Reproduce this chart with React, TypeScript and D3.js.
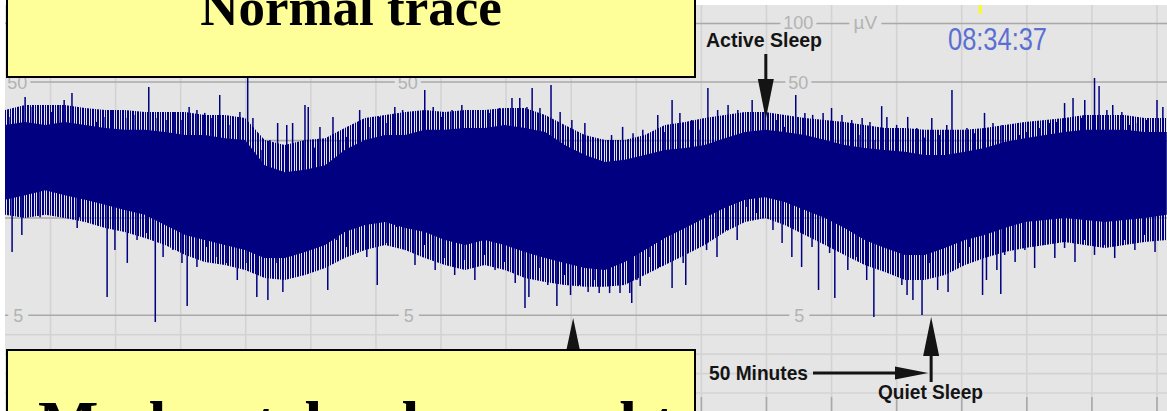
import React from "react";
import * as d3 from "d3";

const WIDTH = 1167;
const HEIGHT = 411;

// Amplitude-integrated EEG band: time in minutes, margins in µV
const bandMinutes = [
  3.0, 6.1, 9.2, 12.2, 15.3, 18.4, 21.4, 24.5, 27.6, 30.7, 33.7, 36.8, 39.9, 42.9, 46.0,
  49.1, 52.2, 55.2, 58.3, 61.4, 64.5, 67.5, 70.6, 73.7, 76.7, 79.8, 82.9, 86.0, 89.0, 92.1,
  95.2, 98.2, 101.3, 104.4, 107.5, 110.5, 113.6, 116.7, 119.8, 122.8, 125.9, 129.0, 132.0,
  135.1, 138.2, 141.3, 144.3, 147.4, 150.5, 153.5, 156.6, 159.7, 162.8, 165.8, 168.9, 172.0,
  175.0, 178.1, 181.5,
];
// dense core of the band
const bandUpperUv = [
  30.1, 31.2, 30.1, 31.2, 30.1, 29.0, 28.4, 28.4, 27.7, 26.7, 26.7, 25.7, 25.2, 18.7, 17.2,
  17.7, 18.7, 22.4, 25.2, 26.7, 26.7, 28.4, 28.4, 29.0, 29.0, 30.1, 29.0, 27.7, 23.7, 21.1,
  19.4, 19.9, 21.1, 22.4, 22.9, 23.7, 25.7, 27.7, 28.4, 27.7, 26.7, 25.2, 23.7,
  22.9, 22.4, 21.9, 21.1, 21.1, 21.9, 22.9, 24.6, 25.7, 26.7, 27.7, 28.4, 28.4,
  28.4, 27.7, 27.7,
];
const bandLowerUv = [
  12.4, 13.1, 13.9, 13.1, 12.4, 11.7, 11.0, 10.4, 9.64, 9.13, 8.87, 8.61, 8.35, 7.94, 7.94,
  8.25, 8.61, 9.28, 9.64, 9.79, 9.49, 9.28, 8.87, 8.61, 8.87, 8.61, 8.25, 7.94, 7.69, 7.43,
  7.33, 7.74, 8.35, 8.97, 9.49, 10.0, 11.3, 12.4, 12.8, 12.1, 11.0, 10.0, 9.49,
  8.87, 8.46, 8.1, 8.1, 8.46, 8.87, 9.13, 9.49, 9.79, 9.9, 10.0, 9.9, 9.79,
  9.9, 10.0, 10.4,
];
// outer margins reached by a large share of the samples
const fringeUpperUv = [
  35.9, 38.1, 38.1, 38.1, 36.8, 35.9, 35.9, 35.1, 35.1, 35.1, 33.9, 33.9, 32.7, 25.2, 23.7,
  25.2, 25.7, 29.0, 32.7, 33.9, 35.1, 35.9, 35.1, 35.9, 35.9, 36.8, 36.8, 33.9, 30.1, 26.7,
  25.2, 25.2, 26.7, 30.1, 31.2, 32.7, 33.9, 35.1, 35.1, 33.9, 32.7, 31.9, 31.2,
  30.1, 29.0, 29.0, 28.4, 28.4, 28.4, 29.0, 30.1, 31.2, 31.9, 32.7, 33.9, 33.9,
  33.9, 32.7, 32.7,
];
const fringeLowerUv = [
  10.4, 10.0, 10.4, 10.0, 9.79, 9.49, 9.28, 8.97, 8.61, 8.1, 7.74, 7.58, 7.33, 6.92, 6.81,
  7.07, 7.43, 7.94, 8.35, 8.61, 8.35, 7.94, 7.58, 7.33, 7.58, 7.33, 6.92, 6.71, 6.56, 6.46,
  6.46, 6.56, 7.07, 7.58, 8.1, 8.61, 9.28, 9.79, 10.0, 9.64, 9.13, 8.61, 8.1,
  7.58, 7.22, 6.81, 6.81, 7.07, 7.58, 7.94, 8.25, 8.46, 8.61, 8.77, 8.61, 8.46,
  8.61, 8.77, 8.87,
];

// Single high-amplitude excursions above the band: [minute, µV]
const upperSpikes: [number, number][] = [
  [3.8, 33.1], [6.1, 41.9], [7.2, 37.2], [8.1, 38.1], [10.2, 35.1], [11.5, 38.1], [12.1, 40.4],
  [13.3, 43.9], [14.2, 35.9], [15.8, 31.9], [17.1, 31.2], [18.4, 33.1], [19.4, 35.9], [20.4, 33.9],
  [21.8, 32.7], [22.8, 33.9], [25.1, 47.2], [26.4, 32.7], [27.9, 31.9], [29.1, 35.1], [30.2, 31.9],
  [31.3, 37.2], [32.5, 35.9], [33.7, 34.7], [34.8, 32.7], [36.0, 42.9], [37.6, 30.1], [39.1, 35.1],
  [40.3, 57.0], [41.1, 32.7], [42.5, 22.4], [43.7, 25.2], [44.9, 30.8], [46.3, 30.1], [47.2, 30.8],
  [48.0, 23.7], [49.1, 38.1], [49.6, 37.2], [50.6, 23.0], [51.4, 29.4], [53.4, 33.1], [54.5, 25.2],
  [55.5, 26.1], [57.5, 35.9], [59.1, 29.4], [60.6, 33.1], [61.7, 30.8], [62.9, 37.2], [64.1, 35.9],
  [67.5, 45.5], [68.8, 37.2], [70.1, 33.1], [71.7, 35.9], [73.2, 38.1], [74.9, 33.1], [77.5, 34.7],
  [79.0, 36.8], [80.9, 41.4], [82.1, 41.4], [83.2, 37.2], [84.0, 46.6], [85.2, 36.8], [86.9, 48.3],
  [88.3, 35.1], [90.1, 31.9], [92.1, 30.8], [94.9, 25.2], [96.2, 26.7], [97.9, 29.4], [99.5, 27.3],
  [101.0, 28.4], [101.8, 25.9], [103.3, 33.9], [104.4, 27.7], [105.5, 40.4], [106.7, 34.7],
  [108.5, 31.9], [109.8, 28.4], [111.0, 46.6], [112.5, 35.9], [114.1, 38.1], [115.6, 35.9],
  [117.8, 40.4], [119.8, 37.2], [121.6, 31.9], [122.8, 29.4], [124.5, 42.9], [125.9, 34.7],
  [127.1, 33.9], [128.7, 34.7], [130.0, 36.8], [131.6, 33.9], [133.1, 31.9], [134.4, 26.7],
  [134.7, 32.7], [135.9, 31.2], [136.7, 25.2], [137.7, 37.6], [138.5, 33.1], [140.0, 30.1],
  [141.7, 33.1], [143.1, 29.0], [144.3, 25.9], [145.4, 32.7], [146.6, 26.7], [147.7, 30.1],
  [148.5, 45.5], [149.4, 25.2], [150.8, 29.0], [152.0, 27.3], [153.5, 34.7], [154.8, 30.8],
  [156.2, 30.1], [157.9, 28.4], [158.9, 26.7], [160.0, 27.7], [162.0, 29.0], [163.5, 30.8],
  [164.6, 31.2], [165.8, 39.0], [167.1, 41.4], [168.4, 32.7], [168.9, 40.4], [170.4, 52.5],
  [171.1, 47.7], [172.3, 35.9], [173.2, 38.1], [174.6, 35.1], [175.8, 30.1], [177.0, 30.8],
  [178.4, 31.9], [180.0, 40.4], [180.9, 37.2],
];

// Single low-amplitude excursions below the band: [minute, µV]
const lowerSpikes: [number, number][] = [
  [4.1, 8.25], [5.6, 9.13], [8.4, 10.1], [14.1, 9.49], [14.5, 10.1], [18.7, 5.94], [19.9, 8.35],
  [21.8, 7.69], [23.3, 8.87], [24.8, 9.23], [26.1, 4.65], [27.3, 7.99], [28.8, 8.35], [30.2, 7.69],
  [31.0, 5.48], [32.5, 7.48], [34.0, 8.51], [35.6, 7.99], [37.1, 7.69], [38.7, 6.81], [40.2, 7.69],
  [41.7, 5.94], [42.6, 6.97], [43.4, 5.78], [44.8, 7.69], [45.7, 6.2], [47.2, 7.99], [48.8, 7.48],
  [50.3, 8.35], [51.9, 7.69], [52.6, 6.3], [54.0, 8.87], [55.5, 8.51], [57.1, 8.35], [58.6, 7.99],
  [60.2, 6.56], [61.7, 8.71], [63.2, 9.54], [64.5, 8.35], [66.0, 7.58], [67.5, 8.61], [69.1, 7.33],
  [70.6, 7.94], [72.1, 7.07], [73.7, 7.84], [75.2, 6.81], [76.7, 8.1], [78.3, 7.33], [79.8, 7.74],
  [81.4, 6.66], [82.9, 5.37], [83.5, 5.94], [85.2, 7.43], [86.4, 6.56], [87.8, 5.48], [89.0, 7.07],
  [89.9, 6.04], [91.3, 6.56], [92.6, 6.2], [93.5, 6.81], [94.3, 6.14], [95.9, 6.14], [97.5, 6.14],
  [99.0, 6.14], [99.3, 5.63], [100.1, 6.81], [100.6, 6.5], [102.1, 7.99], [103.6, 7.48],
  [105.5, 6.4], [107.2, 7.69], [107.6, 6.56], [108.7, 8.51], [110.8, 8.35], [112.4, 7.99],
  [113.9, 9.38], [115.5, 8.87], [117.0, 11.4], [118.5, 10.6], [121.0, 9.38], [122.4, 8.71],
  [123.9, 7.99], [125.4, 7.48], [127.0, 8.51], [128.0, 6.3], [129.7, 8.2], [130.5, 5.89],
  [132.5, 7.33], [133.9, 7.99], [135.4, 6.81], [136.5, 4.91], [137.9, 7.99], [139.4, 7.33],
  [140.8, 6.56], [141.6, 6.04], [142.5, 5.78], [143.9, 5.01], [145.1, 7.69], [146.3, 6.3],
  [147.9, 6.2], [149.7, 7.69], [151.2, 8.51], [153.2, 6.04], [153.8, 6.81], [155.4, 7.33],
  [156.0, 6.09], [156.6, 8.1], [158.2, 7.74], [159.7, 8.35], [161.2, 7.43], [162.8, 8.61],
  [164.3, 7.94], [165.8, 8.46], [167.4, 7.74], [168.9, 8.87], [170.4, 8.1], [172.0, 8.61],
  [173.5, 7.94], [175.0, 8.87], [176.6, 8.35], [178.1, 9.13], [179.7, 8.25], [180.9, 8.87],
];

// Display grid: 10-minute columns, semi-logarithmic amplitude rows
const gridMinutes = d3.range(0, 181, 10);
const majorLevels = [100, 50, 25, 10, 5];
const minorLevels = [4, 3, 2, 1];
const scaleLabelMinutes = [4.9, 64.9, 124.9];
const unitLabelMinute = 124.9;

const activeSleepMinute = 119.9;
const quietSleepMinute = 145.3;
const earlierQuietMinute = 90.3;

const x = d3.scaleLinear().domain([0, 180]).range([-14.6, 1157]);
const yLog = d3.scaleLog().domain([10, 100]).range([218, 23.5]);
const yLin = d3.scaleLinear().domain([0, 10]).range([412.5, 218]);
const y = (v: number) => (v >= 10 ? yLog(v) : yLin(v));

const BG = "#e5e5e5";
const TRACE = "#000080";
const MAJOR = "#a9a9a9";
const MINOR = "#d3d3d3";
const LABEL = "#b3b3b3";
const SANS = "'Liberation Sans', Arial, sans-serif";
const SERIF = "'Liberation Serif', 'Times New Roman', serif";

type BandPoint = { t: number; hi: number; lo: number };

function bandArea(hi: number[], lo: number[]) {
  const pts: BandPoint[] = bandMinutes.map((t, i) => ({ t, hi: hi[i], lo: lo[i] }));
  return (
    d3
      .area<BandPoint>()
      .x((d) => x(d.t))
      .y0((d) => y(d.lo))
      .y1((d) => y(d.hi))(pts) ?? ""
  );
}

export default function App() {
  const corePath = bandArea(bandUpperUv, bandLowerUv);
  const fringePath = bandArea(fringeUpperUv, fringeLowerUv);
  const anchorY = y(15);

  const ax = x(activeSleepMinute);
  const qx = x(quietSleepMinute);
  const ex = x(earlierQuietMinute);
  const ux = x(unitLabelMinute);

  const gapRect = (cx: number, cy: number, w: number) => (
    <rect x={cx - w / 2} y={cy - 8} width={w} height={16} fill={BG} />
  );

  return (
    <div style={{ position: "fixed", left: 0, top: 0 }}>
      <svg width={WIDTH} height={HEIGHT} viewBox={`0 0 ${WIDTH} ${HEIGHT}`} style={{ display: "block" }}>
        <defs>
          <clipPath id="plot">
            <rect x={5} y={5} width={WIDTH - 5} height={HEIGHT - 5} />
          </clipPath>
          <clipPath id="lowerBox">
            <rect x={8} y={351} width={686} height={80} />
          </clipPath>
          {/* per-pixel sample columns: the outer margin is only partly filled */}
          <pattern id="hair" width={5} height={8} patternUnits="userSpaceOnUse">
            <rect x={0} y={0} width={1} height={8} fill={TRACE} />
            <rect x={2} y={0} width={1} height={8} fill={TRACE} />
            <rect x={3} y={0} width={1} height={8} fill={TRACE} />
          </pattern>
        </defs>
        <rect width={WIDTH} height={HEIGHT} fill="#ffffff" />
        <rect x={5} y={5} width={WIDTH - 5} height={HEIGHT - 5} fill={BG} />

        <g clipPath="url(#plot)">
          {gridMinutes.map((m) => (
            <line key={`v${m}`} x1={x(m)} x2={x(m)} y1={5} y2={HEIGHT} stroke={MINOR} strokeWidth={1.6} />
          ))}
          {gridMinutes.map((m) => (
            <line key={`t${m}`} x1={x(m)} x2={x(m)} y1={397} y2={HEIGHT} stroke={MAJOR} strokeWidth={1.6} />
          ))}
          {minorLevels.map((v) => (
            <line key={`n${v}`} x1={0} x2={WIDTH} y1={y(v)} y2={y(v)} stroke={MINOR} strokeWidth={1.6} />
          ))}
          {majorLevels.map((v) => (
            <line key={`m${v}`} x1={0} x2={WIDTH} y1={y(v)} y2={y(v)} stroke={MAJOR} strokeWidth={1.6} />
          ))}

          <g fontFamily={SANS} fontSize={18} fill={LABEL} textAnchor="middle">
            {gapRect(ux, y(100), 36)}
            <text x={ux} y={y(100) + 5.5}>100</text>
            {gapRect(ux + 67, y(100), 32)}
            <text x={ux + 67} y={y(100) + 5.5} fontSize={19}>µV</text>
            {scaleLabelMinutes.map((m) => {
              const cx = x(m);
              return (
                <g key={`lab${m}`}>
                  {gapRect(cx, y(50), 26)}
                  <text x={cx} y={y(50) + 6.5}>50</text>
                  {gapRect(cx + 1, y(5), 20)}
                  <text x={cx + 1} y={y(5) + 6.5}>5</text>
                </g>
              );
            })}
          </g>

          <path d={fringePath} fill="url(#hair)" />
          <path d={corePath} fill={TRACE} />
          {upperSpikes.map(([t, v], i) => (
            <line key={`u${i}`} x1={x(t)} x2={x(t)} y1={anchorY} y2={y(v)} stroke={TRACE} strokeWidth={1.5} />
          ))}
          {lowerSpikes.map(([t, v], i) => (
            <line key={`l${i}`} x1={x(t)} x2={x(t)} y1={anchorY} y2={y(v)} stroke={TRACE} strokeWidth={1.5} />
          ))}
        </g>

        {/* recording clock */}
        <rect x={979} y={5} width={2.5} height={9} fill="#ffff00" />
        <text
          x={948}
          y={49.5}
          fontFamily={SANS}
          fontSize={31}
          fill="#5b6fd3"
          textLength={99}
          lengthAdjust="spacingAndGlyphs"
        >
          08:34:37
        </text>

        {/* sleep-state annotations */}
        <g fill="#141414" stroke="none">
          <text x={706} y={46.5} fontFamily={SANS} fontWeight="bold" fontSize={20} textLength={116} lengthAdjust="spacingAndGlyphs">
            Active Sleep
          </text>
          <rect x={ax - 1.5} y={54} width={3} height={29} />
          <path d={`M${ax - 8},79 L${ax + 8},79 L${ax},119 Z`} />

          <rect x={ex - 1.5} y={340} width={3} height={71} />
          <path d={`M${ex - 8},356 L${ex + 8},356 L${ex},318 Z`} />

          <text x={709} y={380} fontFamily={SANS} fontWeight="bold" fontSize={21} textLength={99} lengthAdjust="spacingAndGlyphs">
            50 Minutes
          </text>
          <rect x={813} y={371.5} width={85} height={3} />
          <path d={`M895,366.5 L895,379.5 L${qx - 3},373 Z`} />

          <rect x={qx - 1.5} y={350} width={3} height={32} />
          <path d={`M${qx - 8},356 L${qx + 8},356 L${qx},317 Z`} />
          <text x={878} y={399} fontFamily={SANS} fontWeight="bold" fontSize={21} textLength={105} lengthAdjust="spacingAndGlyphs">
            Quiet Sleep
          </text>
        </g>

        {/* caption boxes */}
        <rect x={7} y={-20} width={688} height={97} fill="#ffff99" stroke="#000" strokeWidth={2} />
        <text x={351} y={25} textAnchor="middle" fontFamily={SERIF} fontWeight="bold" fontSize={53} fill="#000">
          Normal trace
        </text>
        <rect x={7} y={350} width={688} height={90} fill="#ffff99" stroke="#000" strokeWidth={2} />
        <g clipPath="url(#lowerBox)">
          <text x={38} y={445} fontFamily={SERIF} fontWeight="bold" fontSize={64} fill="#000">
            Moderately abnormal trace
          </text>
        </g>
      </svg>
    </div>
  );
}
